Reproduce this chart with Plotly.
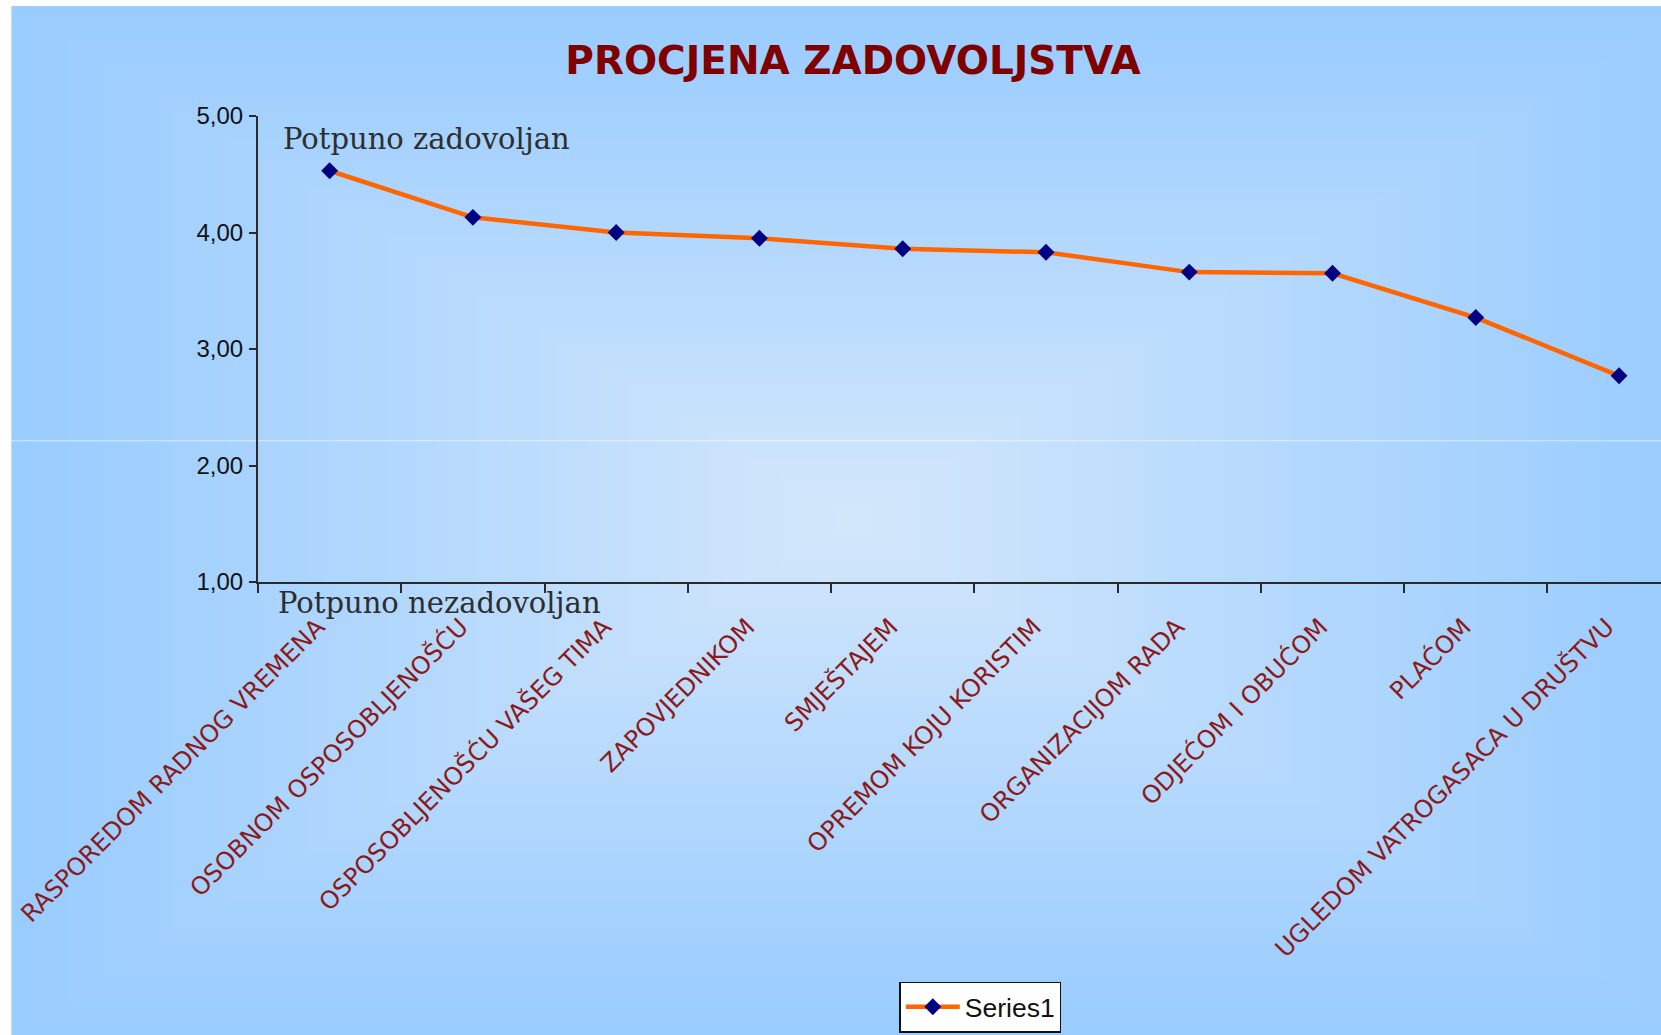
import base64, struct, zlib
import numpy as np
import plotly.graph_objects as go

# ---------------- data ----------------
categories = [
    "RASPOREDOM RADNOG VREMENA",
    "OSOBNOM OSPOSOBLJENOŠĆU",
    "OSPOSOBLJENOŠĆU VAŠEG TIMA",
    "ZAPOVJEDNIKOM",
    "SMJEŠTAJEM",
    "OPREMOM KOJU KORISTIM",
    "ORGANIZACIJOM RADA",
    "ODJEĆOM I OBUĆOM",
    "PLAĆOM",
    "UGLEDOM VATROGASACA U DRUŠTVU",
]
values = [4.53, 4.13, 4.00, 3.95, 3.86, 3.83, 3.66, 3.65, 3.27, 2.77]
series_name = "Series1"
title_text = "PROCJENA ZADOVOLJSTVA"
top_note = "Potpuno zadovoljan"
bottom_note = "Potpuno nezadovoljan"

# ---------------- layout geometry (pixels) ----------------
W, H = 1661, 1035
L, T = 257.7, 116.0
B_PIX = 582.3
PW = W - L
PH = B_PIX - T
CAT_W = 143.3


def px_to_paper_x(px):
    return (px - L) / PW


def px_to_paper_y(py):
    return (B_PIX - py) / PH


# ---------------- background gradient image ----------------
def make_png(arr):
    h, w, _ = arr.shape
    raw = b"".join(b"\x00" + arr[r].tobytes() for r in range(h))

    def chunk(tag, data):
        c = struct.pack(">I", len(data)) + tag + data
        return c + struct.pack(">I", zlib.crc32(tag + data) & 0xFFFFFFFF)

    png = b"\x89PNG\r\n\x1a\n"
    png += chunk(b"IHDR", struct.pack(">IIBBBBB", w, h, 8, 2, 0, 0, 0))
    png += chunk(b"IDAT", zlib.compress(raw, 9))
    png += chunk(b"IEND", b"")
    return png


bg_x0, bg_y0, bg_x1, bg_y1 = 11, 6, W + 20, H + 20
scale = 0.5
gw = int((bg_x1 - bg_x0) * scale)
gh = int((bg_y1 - bg_y0) * scale)
xs = bg_x0 + (np.arange(gw) + 0.5) / scale
ys = bg_y0 + (np.arange(gh) + 0.5) / scale
XX, YY = np.meshgrid(xs, ys)
cx, cy, hw, hh = 853.0, 520.0, 842.0, 514.0
f = np.maximum(np.abs(XX - cx) / hw, np.abs(YY - cy) / hh)
t = np.clip(1.0 - f, 0, 1) ** 1.05
edge = np.array([153, 204, 255], dtype=float)
center = np.array([212, 231, 251], dtype=float)
img = edge[None, None, :] + (center - edge)[None, None, :] * t[..., None]
img = np.clip(np.round(img), 0, 255).astype(np.uint8)
png_uri = "data:image/png;base64," + base64.b64encode(make_png(img)).decode()

# ---------------- figure ----------------
fig = go.Figure()
fig.add_trace(
    go.Scatter(
        x=categories,
        y=values,
        mode="lines+markers",
        name=series_name,
        line=dict(color="#FF6600", width=4.5),
        marker=dict(symbol="diamond", size=13, color="#000080"),
        showlegend=True,
    )
)

fig.update_layout(
    width=W,
    height=H,
    autosize=False,
    margin=dict(l=L, r=0, t=T, b=H - B_PIX, pad=0, autoexpand=False),
    paper_bgcolor="white",
    plot_bgcolor="rgba(0,0,0,0)",
    separators=",.",
    title=dict(
        text=title_text,
        font=dict(family="DejaVu Sans", size=39, color="#800000", weight="bold"),
        xref="container",
        yref="container",
        x=853 / W,
        y=1 - 60 / H,
        xanchor="center",
        yanchor="middle",
    ),
    xaxis=dict(
        type="category",
        categoryorder="array",
        categoryarray=categories,
        range=[-0.5, -0.5 + PW / CAT_W],
        showgrid=False,
        zeroline=False,
        showline=True,
        linecolor="#2a2a2a",
        linewidth=2,
        ticks="outside",
        tickson="boundaries",
        ticklen=9,
        tickwidth=2,
        tickcolor="#2a2a2a",
        tickangle=-45,
        tickfont=dict(family="DejaVu Sans", size=24.4, color="#8B1A1A"),
        ticklabelstandoff=19,
        ticklabelshift=-12,
        automargin=False,
        fixedrange=True,
    ),
    yaxis=dict(
        range=[1, 5],
        tickvals=[1, 2, 3, 4, 5],
        tickformat=".2f",
        showgrid=False,
        zeroline=False,
        showline=True,
        linecolor="#2a2a2a",
        linewidth=2,
        ticks="outside",
        ticklen=7,
        tickwidth=2,
        tickcolor="#2a2a2a",
        tickfont=dict(family="Liberation Sans", size=24, color="#111111"),
        ticklabelstandoff=1,
        automargin=False,
        fixedrange=True,
    ),
    legend=dict(
        xref="container",
        yref="container",
        x=899.3 / W,
        y=1 - 1007 / H,
        xanchor="left",
        yanchor="middle",
        bgcolor="white",
        bordercolor="#111111",
        borderwidth=1.5,
        itemwidth=54,
        font=dict(family="Liberation Sans", size=26.5, color="#111111"),
        orientation="v",
    ),
    images=[
        dict(
            source=png_uri,
            xref="paper",
            yref="paper",
            x=px_to_paper_x(bg_x0),
            y=px_to_paper_y(bg_y0),
            sizex=(bg_x1 - bg_x0) / PW,
            sizey=(bg_y1 - bg_y0) / PH,
            sizing="stretch",
            xanchor="left",
            yanchor="top",
            layer="below",
        )
    ],
    shapes=[
        dict(
            type="line",
            xref="paper",
            yref="paper",
            x0=px_to_paper_x(0),
            x1=px_to_paper_x(W),
            y0=px_to_paper_y(441),
            y1=px_to_paper_y(441),
            line=dict(color="rgba(255,255,255,0.6)", width=1),
            layer="below",
        )
    ],
    annotations=[
        dict(
            text=top_note,
            xref="paper",
            yref="paper",
            x=px_to_paper_x(281.0),
            y=px_to_paper_y(139),
            xanchor="left",
            yanchor="middle",
            showarrow=False,
            font=dict(family="DejaVu Serif", size=29, color="#2e2e2e"),
        ),
        dict(
            text=bottom_note,
            xref="paper",
            yref="paper",
            x=px_to_paper_x(275.5),
            y=px_to_paper_y(603.5),
            xanchor="left",
            yanchor="middle",
            showarrow=False,
            font=dict(family="DejaVu Serif", size=29, color="#2e2e2e"),
        ),
    ],
)

fig.write_html(
    "out.html",
    config={"displayModeBar": False},
    post_script=(
        "document.documentElement.style.margin='0';"
        "document.body.style.margin='0';"
        "document.body.style.overflow='hidden';"
        "document.body.style.background='#99ccff';"
    ),
)
